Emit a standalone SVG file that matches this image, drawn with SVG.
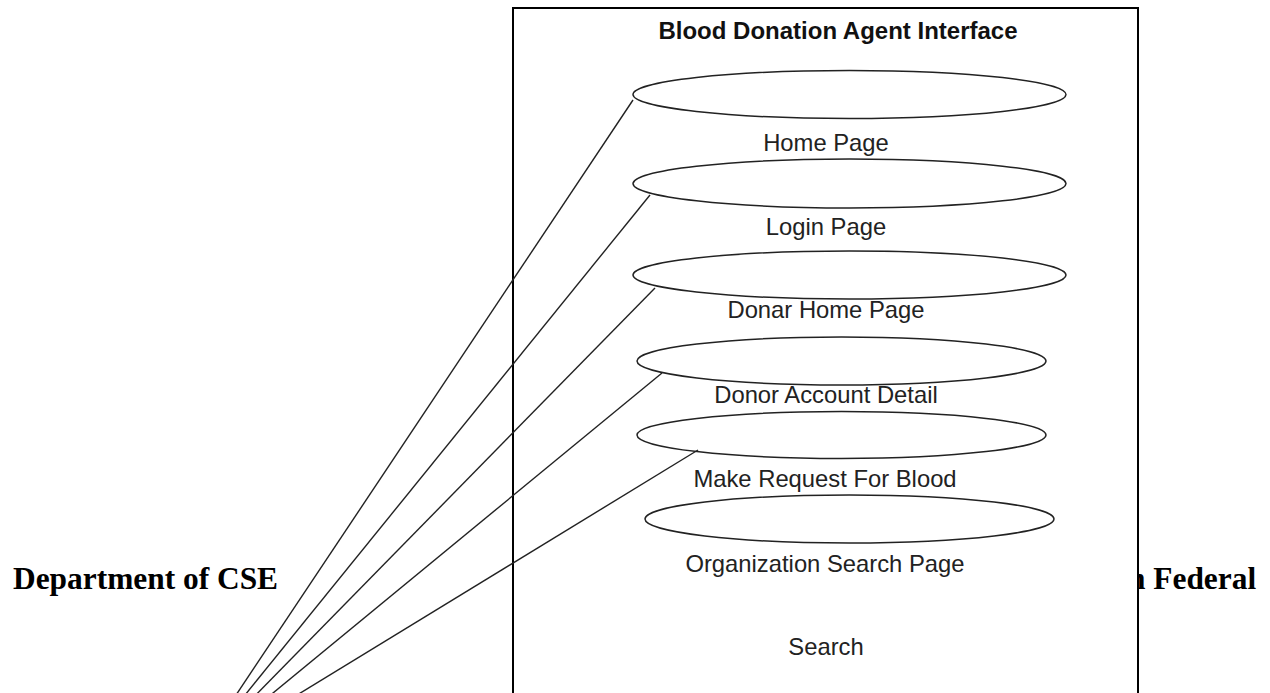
<svg xmlns="http://www.w3.org/2000/svg" width="1270" height="693" viewBox="0 0 1270 693">
  <style>
    .page { font-family: "Liberation Serif", "Times New Roman", serif; font-weight: bold; font-size: 31.4px; fill: #000; }
    .frame { fill: #fff; stroke: #000; stroke-width: 2; }
    .title { font-family: "Liberation Sans", Arial, sans-serif; font-weight: bold; font-size: 24px; fill: #111; text-anchor: middle; }
    .uc { fill: #fff; stroke: #222; stroke-width: 1.5; }
    .lbl { font-family: "Liberation Sans", Arial, sans-serif; font-size: 23.8px; fill: #222; text-anchor: middle; }
    .assoc { stroke: #222; stroke-width: 1.4; fill: none; }
  </style>

  <!-- page text behind the system boundary -->
  <text class="page" x="13" y="589">Department of CSE</text>
  <text class="page" x="1128" y="589">n Federal</text>

  <!-- system boundary -->
  <g id="system">
    <rect class="frame" x="513" y="8" width="625" height="700"/>
    <text class="title" x="838" y="39">Blood Donation Agent Interface</text>
  </g>

  <g id="uc-home">
    <ellipse class="uc" cx="849.5" cy="94.5" rx="216.5" ry="24"/>
    <text class="lbl" x="826" y="151">Home Page</text>
  </g>
  <g id="uc-login">
    <ellipse class="uc" cx="849.5" cy="183.5" rx="216.5" ry="24.5"/>
    <text class="lbl" x="826" y="235">Login Page</text>
  </g>
  <g id="uc-donar-home">
    <ellipse class="uc" cx="849.5" cy="275" rx="216.5" ry="24"/>
    <text class="lbl" x="826" y="318">Donar Home Page</text>
  </g>
  <g id="uc-donor-account">
    <ellipse class="uc" cx="841.5" cy="361" rx="204.5" ry="24"/>
    <text class="lbl" x="826" y="403">Donor Account Detail</text>
  </g>
  <g id="uc-request">
    <ellipse class="uc" cx="841.5" cy="435" rx="204.5" ry="23.5"/>
    <text class="lbl" x="825" y="487">Make Request For Blood</text>
  </g>
  <g id="uc-org-search">
    <ellipse class="uc" cx="849.5" cy="519" rx="204.5" ry="24"/>
    <text class="lbl" x="825" y="572">Organization Search Page</text>
  </g>
  <g id="uc-search">
    <text class="lbl" x="826" y="655">Search</text>
  </g>

  <!-- associations from the actor below the page -->
  <g id="connectors">
    <line class="assoc" x1="633" y1="100" x2="194" y2="758"/>
    <line class="assoc" x1="650" y1="195" x2="194" y2="758"/>
    <line class="assoc" x1="655" y1="288" x2="194" y2="758"/>
    <line class="assoc" x1="662" y1="373" x2="194" y2="758"/>
    <line class="assoc" x1="698" y1="450" x2="194" y2="758"/>
  </g>
</svg>
